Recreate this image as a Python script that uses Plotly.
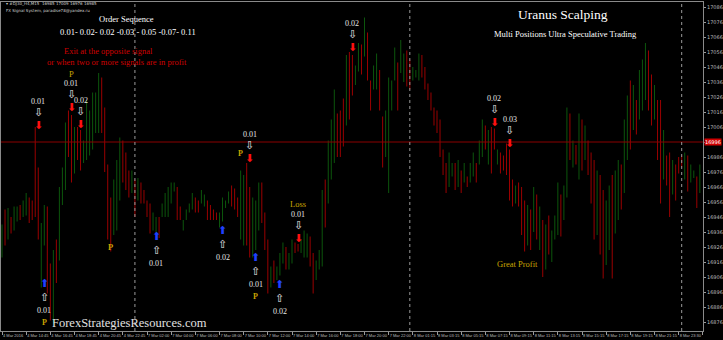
import plotly.graph_objects as go

# ---------------- data (15-min bars, prices) ----------------
open_ = [16924,16946,16935,16944,16940,16945,16952,16948,16950,16956,
16955,16990,16975,16905,16931,16948,16910,16880,16928,16922,
16958,16970,17012,17008,16979,17003,17000,16985,16989,16992,
16995,17006,17007,17035,17014,16976,16955,16938,16942,16962,
16994,16986,16975,16964,16968,16959,16967,16962,16955,16952,
16939,16937,16944,16948,16949,16950,16958,16964,16963,16951,
16938,16945,16950,16953,16957,16956,16957,16954,16955,16952,
16949,16948,16941,16946,16953,16957,16965,16963,16957,16936,
16932,16977,16961,16923,16928,16941,16966,16946,16927,16901,
16915,16905,16909,16917,16924,16913,16917,16928,16927,16923,
16922,16922,16930,16918,16906,16913,16918,16967,16960,16976,
16988,17012,17013,17021,17012,17050,17051,17036,17045,17058,
17056,17065,17034,17033,17034,17040,17009,16990,16970,17020,
17040,17045,17045,17039,17054,17048,17039,17040,17040,17052,
17044,17033,17027,17017,17015,17008,16989,16979,16969,16975,
16980,16968,16975,16971,16972,16971,16975,16980,16983,16989,
17005,16984,17003,17003,16982,16987,16986,16992,16987,16969,
16957,16967,16962,16953,16930,16948,16939,16958,16927,16940,
16914,16944,16919,16933,16938,16958,16947,16966,17012,16981,
16992,16975,17008,16986,16995,16985,16979,16938,16969,16958,
16918,16928,16968,16939,16948,16978,16967,16988,17032,17007,
17022,17014,17020,17028,17053,17037,17013,17020,17018,16974,
16985,16984,16963,16978,16984,16986,16974,16984,16971,16973,
16970,16964]
high = [16941,16951,16952,16946,16953,16953,16954,16957,16962,16959,
16957,17006,16979,16942,16954,16953,16915,16924,16931,16966,
16979,17009,17017,17014,17006,17006,17004,16997,17024,17017,
17029,17029,17042,17039,17019,16981,16959,16971,16984,16999,
16997,16989,16977,16977,16971,16972,16969,16964,16957,16955,
16949,16946,16946,16955,16962,16966,16969,16969,16966,16953,
16944,16951,16955,16962,16959,16957,16964,16961,16957,16954,
16951,16949,16949,16959,16957,16963,16967,16965,16959,16977,
16974,16982,16966,16959,16957,16969,16969,16949,16931,16913,
16917,16913,16922,16929,16926,16922,16931,16929,16928,16931,
16937,16935,16933,16922,16917,16924,16964,16971,16997,17011,
17031,17015,17017,17025,17054,17056,17054,17047,17062,17061,
17079,17069,17037,17047,17055,17044,17013,17017,17039,17037,
17059,17049,17064,17055,17057,17051,17046,17044,17055,17054,
17046,17035,17029,17019,17017,17011,16991,16982,16989,16982,
16982,16984,16977,16982,16973,16982,16989,16982,16997,17011,
17007,17004,17006,17005,16991,16989,16987,16995,16991,16971,
16967,16969,16966,16957,16954,16951,16966,16961,16953,16944,
16941,16947,16937,16947,16969,16961,16967,17019,17015,16997,
16994,17015,17011,17007,16997,16989,16984,16977,16974,16964,
16957,16967,16974,16977,16984,16981,17011,17027,17037,17034,
17024,17044,17051,17062,17057,17041,17034,17024,17024,17004,
16987,16989,16984,16981,16986,16987,16989,16987,16981,16977,
16973,16981]
low = [16919,16927,16931,16935,16937,16943,16944,16946,16947,16942,
16944,16946,16931,16899,16927,16895,16877,16875,16902,16917,
16954,16964,16986,16969,16975,16984,16977,16982,16984,16987,
16991,17002,17002,17002,16976,16931,16923,16934,16937,16957,
16969,16964,16959,16962,16946,16957,16955,16955,16946,16935,
16937,16935,16932,16946,16946,16946,16955,16963,16944,16944,
16937,16944,16949,16951,16949,16949,16955,16953,16944,16944,
16944,16944,16939,16943,16952,16955,16953,16951,16946,16931,
16927,16927,16919,16919,16924,16937,16942,16924,16895,16899,
16902,16904,16907,16915,16911,16911,16915,16922,16923,16922,
16919,16919,16913,16895,16904,16911,16913,16939,16955,16971,
16982,16986,16986,16993,17007,17011,17027,17034,17043,17041,
17053,17037,17017,17031,17031,17017,16979,16986,16962,17017,
17037,17017,17042,17036,17033,17031,17037,17039,17037,17039,
17031,17024,17017,17007,17002,16986,16974,16962,16966,16973,
16964,16966,16962,16969,16966,16969,16973,16969,16981,16986,
16991,16981,16975,16991,16981,16975,16977,16974,16957,16953,
16955,16953,16934,16923,16927,16924,16936,16931,16924,16906,
16911,16921,16916,16931,16934,16933,16944,16959,16984,16979,
16981,16971,16977,16984,16974,16955,16931,16934,16921,16905,
16914,16924,16905,16935,16944,16951,16962,16984,16991,17004,
17001,17011,17017,17024,17017,17007,17011,16984,16955,16971,
16967,16946,16961,16957,16975,16979,16971,16963,16969,16972,
16952,16962]
close = [16937,16931,16948,16938,16950,16951,16946,16955,16959,16945,
16947,16952,16935,16938,16950,16900,16882,16920,16906,16962,
16975,17004,16990,16974,17002,16988,16981,16994,17019,17013,
17025,17026,17037,17006,16980,16936,16927,16967,16980,16995,
16972,16967,16962,16974,16949,16970,16957,16957,16948,16938,
16947,16944,16935,16953,16959,16962,16967,16968,16947,16946,
16943,16950,16954,16960,16951,16950,16962,16960,16946,16946,
16945,16945,16947,16956,16956,16961,16955,16953,16948,16972,
16970,16932,16924,16955,16953,16965,16945,16927,16899,16911,
16904,16911,16920,16927,16913,16920,16929,16923,16924,16929,
16934,16932,16916,16899,16915,16922,16958,16943,16992,17006,
17025,16990,16989,16996,17049,17015,17030,17045,17059,17044,
17074,17041,17020,17045,17051,17021,16983,17013,17032,17034,
17056,17021,17061,17052,17036,17034,17044,17043,17052,17041,
17033,17026,17019,17009,17004,16989,16976,16965,16986,16980,
16966,16981,16964,16980,16967,16980,16987,16971,16995,17008,
16993,17001,16978,16993,16989,16977,16978,16977,16961,16955,
16965,16955,16937,16926,16950,16927,16962,16934,16949,16910,
16937,16924,16934,16945,16965,16936,16964,17012,16987,16995,
16983,17011,16981,17004,16977,16959,16936,16972,16926,16911,
16953,16963,16911,16973,16980,16954,17006,17023,16995,17031,
17003,17041,17048,17058,17020,17010,17031,16988,16960,17001,
16969,16950,16981,16960,16976,16980,16986,16966,16979,16976,
16955,16978]

tick_pos = list(range(0, 233, 8))
tick_labels = ["4 Mar 2016", "4 Mar 14:45", "4 Mar 16:45", "4 Mar 18:45", "4 Mar 20:45",
               "4 Mar 22:45", "7 Mar 02:00", "7 Mar 04:00", "7 Mar 06:00", "7 Mar 08:00",
               "7 Mar 10:00", "7 Mar 12:00", "7 Mar 14:00", "7 Mar 16:00", "7 Mar 18:00",
               "7 Mar 20:00", "7 Mar 22:00", "8 Mar 01:15", "8 Mar 03:15", "8 Mar 05:15",
               "8 Mar 07:15", "8 Mar 09:15", "8 Mar 11:15", "8 Mar 13:15", "8 Mar 15:15",
               "8 Mar 17:15", "8 Mar 19:15", "8 Mar 21:15", "8 Mar 23:30", "9 Mar 02:30"]
price_ticks = list(range(16876, 17087, 10))
bid_price = 16996
day_separators = [44, 135, 225]

sell_bar = [12, 23, 26, 82, 98, 116, 163, 168]
sell_price = [17007, 17019, 17008, 16985, 16932, 17059, 17009, 16995]
sell_lot = ["0.01", "0.01", "0.02", "0.01", "0.01", "0.02", "0.02", "0.03"]
sell_note = ["", "P", "", "", "Loss", "", "", ""]

buy_bar = [14, 51, 73, 84, 92]
buy_price = [16902, 16933, 16937, 16919, 16901]
buy_lot = ["0.01", "0.01", "0.02", "0.01", "0.02"]
buy_note = ["P", "", "", "P", ""]

extra_label = ["P", "Great Profit"]
extra_bar = [36, 170.5]
extra_price = [16926, 16915]

# ---------------- figure ----------------
W, H = 723, 340
L, R, T, B = 0, 16, 2, 9
GREEN = "#0c560c"
RED = "#9a0000"
GOLD = "#c9a400"
SERIF = "Liberation Serif"

fig = go.Figure()
fig.add_trace(go.Ohlc(
    x=list(range(len(open_))), open=open_, high=high, low=low, close=close,
    increasing=dict(line=dict(color=GREEN, width=1)),
    decreasing=dict(line=dict(color=RED, width=1)),
    tickwidth=0, hoverinfo="skip", showlegend=False))

ann = []

def paper(x, y):
    return x / (W - L - R), (H - B - y) / (H - T - B)

for b, p, lot, note in zip(sell_bar, sell_price, sell_lot, sell_note):
    ann.append(dict(x=b, y=p, text="⬇", font=dict(color="#ff1010", size=11, family="DejaVu Sans"), yshift=0))
    ann.append(dict(x=b, y=p, text="⇩", font=dict(color="#e6e6e6", size=11, family="DejaVu Sans"), yshift=13))
    ann.append(dict(x=b, y=p, text=lot, font=dict(color="#e6e6e6", size=8, family=SERIF), yshift=24))
    if note:
        ann.append(dict(x=b, y=p, text=note, font=dict(color=GOLD, size=8.5, family=SERIF), yshift=34))
# the 4th sell carries a "P" on its left
ann.append(dict(x=sell_bar[3], y=sell_price[3], text="<b>P</b>", font=dict(color=GOLD, size=8, family=SERIF), xshift=-9, yshift=5))

for b, p, lot, note in zip(buy_bar, buy_price, buy_lot, buy_note):
    ann.append(dict(x=b, y=p, text="⬆", font=dict(color="#2040ff", size=11, family="DejaVu Sans"), yshift=0))
    ann.append(dict(x=b, y=p, text="⇧", font=dict(color="#e6e6e6", size=11, family="DejaVu Sans"), yshift=-14))
    ann.append(dict(x=b, y=p, text=lot, font=dict(color="#e6e6e6", size=8, family=SERIF), yshift=-27))
    if note:
        ann.append(dict(x=b, y=p, text="<b>" + note + "</b>", font=dict(color=GOLD, size=8, family=SERIF), yshift=-39))

for t, b, p in zip(extra_label, extra_bar, extra_price):
    txt = "<b>P</b>" if t == "P" else t
    ann.append(dict(x=b, y=p, text=txt, font=dict(color=GOLD, size=8.5, family=SERIF)))

for a in ann:
    a.update(xref="x", yref="y", showarrow=False, xanchor="center", yanchor="middle")

fixed = [
    ("Order Sequence", 126, 19, "#ffffff", 8.5),
    ("0.01- 0.02- 0.02 -0.03 - 0.05 -0.07- 0.11", 128, 32, "#ffffff", 8.5),
    ("Exit at the opposite signal", 108, 51, "#d00000", 8.5),
    ("or when two or more signals are in profit", 117, 62, "#d00000", 8.5),
    ("Uranus Scalping", 566, 14, "#ffffff", 13.5),
    ("Multi Positions Ultra Speculative Trading", 569, 34, "#ffffff", 8.5),
    ("ForexStrategiesResources.com", 129, 323, "#e0e0e0", 12.5),
]
for t, x, y, c, s in fixed:
    xp, yp = paper(x, y)
    ann.append(dict(x=xp, y=yp, xref="paper", yref="paper", text=t, showarrow=False,
                    xanchor="center", yanchor="middle", font=dict(color=c, size=s, family=SERIF)))

for t, y in [("▾ #DJ30_H4,M15  16985 17009 16976 16985", 4), ("FX Signal System, paradise78@yandex.ru", 10)]:
    xp, yp = paper(3, y)
    ann.append(dict(x=xp, y=yp, xref="paper", yref="paper", text=t, showarrow=False,
                    xanchor="left", yanchor="middle", font=dict(color="#cfcfcf", size=4, family="DejaVu Sans")))

# price box on the axis (covers the tick label at the bid)
ann.append(dict(x=1, y=bid_price, xref="paper", yref="y", text=str(bid_price), showarrow=False,
                xanchor="left", yanchor="middle", xshift=1, bgcolor="#d00000", borderpad=0,
                font=dict(color="#ffffff", size=5, family="DejaVu Sans")))

shapes = [dict(type="line", xref="paper", x0=0, x1=1, yref="y", y0=bid_price, y1=bid_price,
               line=dict(color="#8b0000", width=1))]
for s in day_separators:
    shapes.append(dict(type="line", xref="x", x0=s, x1=s, yref="paper", y0=0, y1=1,
                       line=dict(color="#9a9a9a", width=1, dash="dot")))

fig.update_layout(
    width=W, height=H, margin=dict(l=L, r=R, t=T, b=B),
    paper_bgcolor="#000000", plot_bgcolor="#000000",
    annotations=ann, shapes=shapes, showlegend=False,
    xaxis=dict(range=[-0.33, 232.05], rangeslider=dict(visible=False), showgrid=False, zeroline=False,
               tickmode="array", tickvals=tick_pos, ticktext=tick_labels, tickangle=0,
               ticks="outside", ticklen=3, tickcolor="#9a9a9a", ticklabelposition="outside right",
               tickfont=dict(color="#bdbdbd", size=4, family="Liberation Sans"),
               showline=True, linecolor="#8a8a8a", linewidth=1, mirror=True),
    yaxis=dict(range=[16870.0, 17089.33], side="right", showgrid=False, zeroline=False,
               tickmode="array", tickvals=price_ticks,
               ticktext=["" if v == bid_price else str(v) for v in price_ticks],
               ticks="outside", ticklen=2, tickcolor="#9a9a9a",
               tickfont=dict(color="#bdbdbd", size=5, family="DejaVu Sans"),
               showline=True, linecolor="#8a8a8a", linewidth=1, mirror=True),
)

fig.write_html("out.html")
